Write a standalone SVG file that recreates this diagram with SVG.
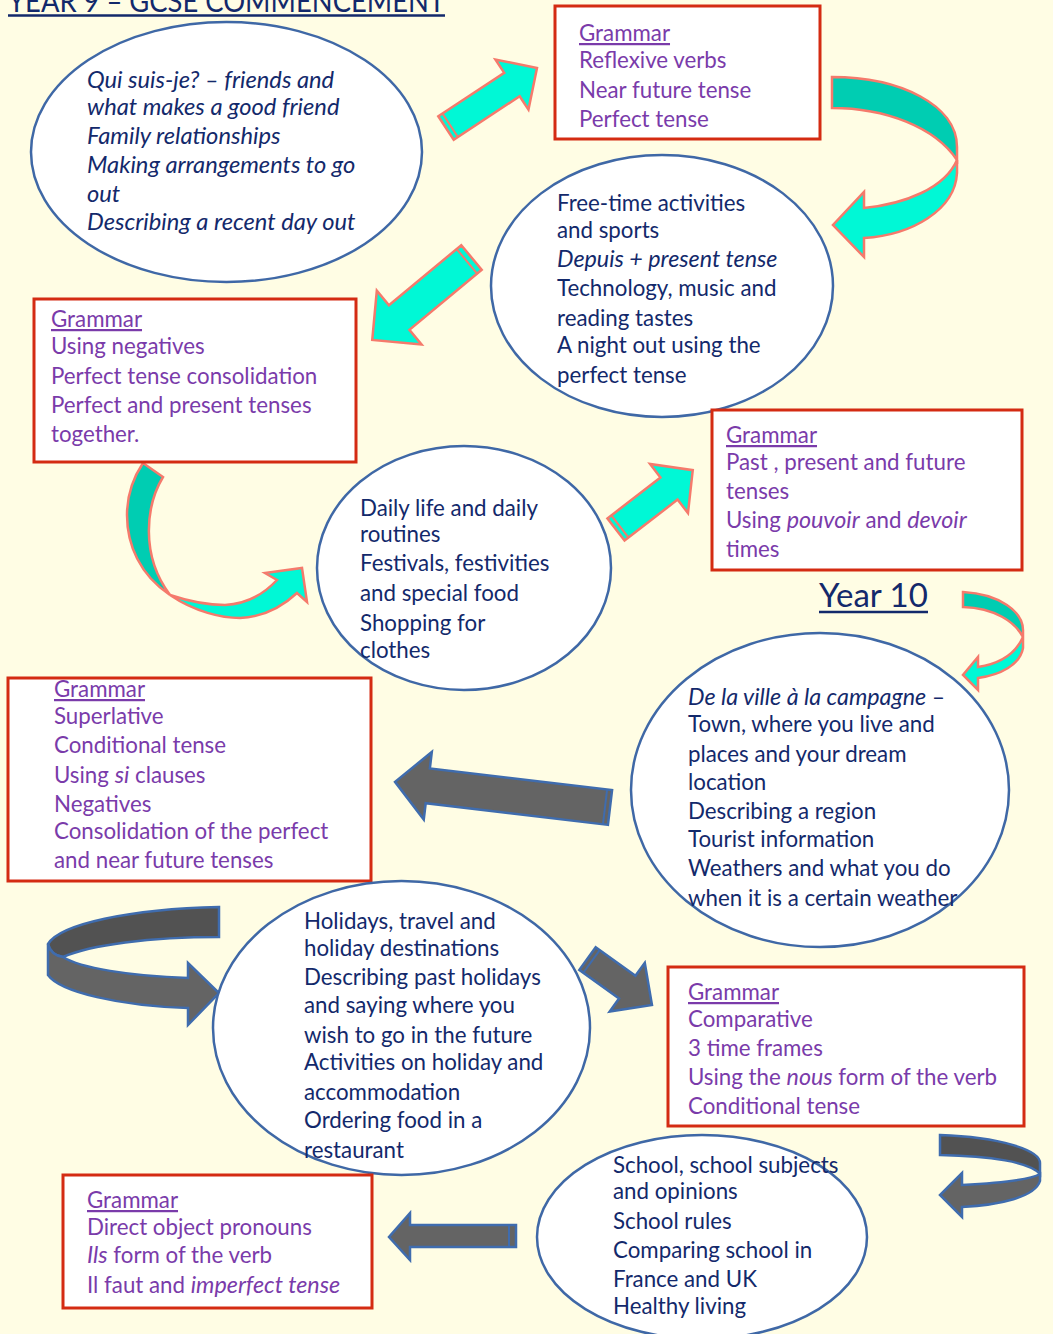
<svg xmlns="http://www.w3.org/2000/svg" width="1053" height="1334" viewBox="0 0 1053 1334">
<defs>
<style>
.ell{fill:#fff;stroke:#3F68A6;stroke-width:2.5}
.box{fill:#fff;stroke:#D42B12;stroke-width:3}
.t{font-family:Lato,"Liberation Sans",sans-serif;font-size:22.3px;fill:#13296B}
.p{font-family:Lato,"Liberation Sans",sans-serif;font-size:22.3px;fill:#7A3BAA}
.i{font-style:italic;font-size:23.3px}
.i2{font-style:italic;font-size:23.7px}
.u{text-decoration:underline}
.cy{fill:#00F8D6;stroke:#F57A6C;stroke-width:2.5;stroke-linejoin:miter}
.cyd{fill:#00CDB2;stroke:#F57A6C;stroke-width:2.5}
.gr{fill:#646464;stroke:#3F6CAE;stroke-width:2.5}
.grd{fill:#525252;stroke:#3F6CAE;stroke-width:2.5}
</style>
</defs>
<rect width="1053" height="1334" fill="#FFFDE4"/>

<g id="title">
<text x="8" y="12" font-family="Lato,'Liberation Sans',sans-serif" font-size="30" fill="#13296B" textLength="437" lengthAdjust="spacingAndGlyphs">YEAR 9 – GCSE COMMENCEMENT</text>
<line x1="8" y1="15.5" x2="445" y2="15.5" stroke="#13296B" stroke-width="2.5"/>
</g>

<g id="year10">
<text x="819" y="607" font-family="Lato,'Liberation Sans',sans-serif" font-size="33" fill="#13296B">Year 10</text>
<line x1="819" y1="612" x2="928" y2="612" stroke="#13296B" stroke-width="2.5"/>
</g>

<g id="connectors">
<g transform="translate(446,128) rotate(-33.4)">
<polygon class="cy" points="0,-14 79,-14 79,-30 109,0 79,30 79,14 0,14"/>
<line x1="5" y1="-14" x2="5" y2="14" stroke="#F57A6C" stroke-width="2"/>
</g>
<g transform="translate(471.5,257.5) rotate(140.3)">
<polygon class="cy" points="0,-16 94,-16 94,-35 129,0 94,35 94,16 0,16"/>
<line x1="6" y1="-16" x2="6" y2="16" stroke="#F57A6C" stroke-width="2"/>
</g>
<g transform="translate(616,529.5) rotate(-37.7)">
<polygon class="cy" points="0,-14 67,-14 67,-31 97,0 67,31 67,14 0,14"/>
<line x1="5" y1="-14" x2="5" y2="14" stroke="#F57A6C" stroke-width="2"/>
</g>
<path class="cyd" d="M832,77 C900,77 957,105 957,147 L957,160 C935,127 885,108 832,108 Z"/>
<path class="cy" d="M957,160 L957,173 C955,210 912,235 864,238 L864,257 L833,225 L864,192 L864,208 C905,204 945,188 957,160 Z"/>
<path class="cyd" d="M143,463 L163,477 C146,505 140,555 170,595 C140,575 127,545 127,515 C127,495 133,478 143,463 Z"/>
<path class="cy" d="M170,595 C195,612 222,618 240,618 C262,617 282,607 297,593 L307,602 L302,568 L265,573 L277,580 C262,596 245,604 225,605 C205,605 185,600 170,595 Z"/>
<path class="cyd" d="M963,592 C1000,594 1023,612 1023,630 L1023,637 C1015,622 995,608 963,607 Z"/>
<path class="cy" d="M1023,637 L1023,648 C1020,665 1000,675 978,678 L978,690 L963,675 L978,657 L978,667 C998,664 1015,655 1023,637 Z"/>
<g transform="translate(610,807.5) rotate(186.8)">
<polygon class="gr" points="0,-17.5 183.5,-17.5 183.5,-34 216.5,0 183.5,34 183.5,17.5 0,17.5"/>
<line x1="5" y1="-17.5" x2="5" y2="17.5" stroke="#3F6CAE" stroke-width="2"/>
</g>
<path class="grd" d="M219,907 L219,937 C150,937 90,945 63,957 C56,956 50,952 48,944 C60,924 130,909 219,907 Z"/>
<path class="gr" d="M48,944 L48,975 C60,992 120,1006 188,1008 L188,1025 L219,993 L188,963 L188,978 C130,976 80,968 63,957 C56,956 50,952 48,944 Z"/>
<g transform="translate(587.5,958.5) rotate(35.8)">
<polygon class="gr" points="0,-14 49,-14 49,-30 79.5,0 49,30 49,14 0,14"/>
<line x1="5" y1="-14" x2="5" y2="14" stroke="#3F6CAE" stroke-width="2"/>
</g>
<path class="grd" d="M940,1135 C1000,1137 1040,1150 1040,1163 L1040,1174 C1030,1162 990,1156 940,1155 Z"/>
<path class="gr" d="M1040,1174 L1040,1181 C1035,1197 1000,1205 962,1207 L962,1217 L940,1195 L962,1173 L962,1185 C1000,1183 1030,1180 1040,1174 Z"/>
<polygon class="gr" points="516,1225 410,1225 410,1213 389,1237 410,1260 410,1247 516,1247"/>
<line x1="509" y1="1225" x2="509" y2="1247" stroke="#3F6CAE" stroke-width="2"/>
</g>

<g id="topic1">
<ellipse class="ell" cx="226.5" cy="152" rx="195.5" ry="130"/>
<text class="t i2" x="87" y="88">Qui suis-je? – friends and</text>
<text class="t i2" x="87" y="115">what makes a good friend</text>
<text class="t i2" x="87" y="144">Family relationships</text>
<text class="t i2" x="87" y="173">Making arrangements to go</text>
<text class="t i2" x="87" y="202">out</text>
<text class="t i2" x="87" y="230">Describing a recent day out</text>
</g>

<g id="grammar1">
<rect class="box" x="555" y="6" width="265" height="133"/>
<text class="p u" x="579" y="41">Grammar</text>
<text class="p" x="579" y="68">Reflexive verbs</text>
<text class="p" x="579" y="98">Near future tense</text>
<text class="p" x="579" y="127">Perfect tense</text>
</g>

<g id="topic2">
<ellipse class="ell" cx="662" cy="286" rx="171" ry="131"/>
<text class="t" x="557" y="211">Free-time activities</text>
<text class="t" x="557" y="238">and sports</text>
<text class="t i" x="557" y="267">Depuis + present tense</text>
<text class="t" x="557" y="296">Technology, music and</text>
<text class="t" x="557" y="326">reading tastes</text>
<text class="t" x="557" y="353">A night out using the</text>
<text class="t" x="557" y="383">perfect tense</text>
</g>

<g id="grammar2">
<rect class="box" x="34" y="299" width="322" height="163"/>
<text class="p u" x="51" y="327">Grammar</text>
<text class="p" x="51" y="354">Using negatives</text>
<text class="p" x="51" y="384">Perfect tense consolidation</text>
<text class="p" x="51" y="413">Perfect and present tenses</text>
<text class="p" x="51" y="442">together.</text>
</g>

<g id="topic3">
<ellipse class="ell" cx="464" cy="568" rx="147" ry="122"/>
<text class="t" x="360" y="516">Daily life and daily</text>
<text class="t" x="360" y="542">routines</text>
<text class="t" x="360" y="571">Festivals, festivities</text>
<text class="t" x="360" y="601">and special food</text>
<text class="t" x="360" y="631">Shopping for</text>
<text class="t" x="360" y="658">clothes</text>
</g>

<g id="grammar3">
<rect class="box" x="712" y="410" width="310" height="160"/>
<text class="p u" x="726" y="443">Grammar</text>
<text class="p" x="726" y="470">Past , present and future</text>
<text class="p" x="726" y="499">tenses</text>
<text class="p" x="726" y="528">Using <tspan class="i">pouvoir</tspan> and <tspan class="i">devoir</tspan></text>
<text class="p" x="726" y="557">times</text>
</g>

<g id="topic4">
<ellipse class="ell" cx="820" cy="790" rx="189" ry="157"/>
<text class="t" x="688" y="705"><tspan class="i">De la ville à la campagne</tspan> –</text>
<text class="t" x="688" y="732">Town, where you live and</text>
<text class="t" x="688" y="762">places and your dream</text>
<text class="t" x="688" y="790">location</text>
<text class="t" x="688" y="819">Describing a region</text>
<text class="t" x="688" y="847">Tourist information</text>
<text class="t" x="688" y="876">Weathers and what you do</text>
<text class="t" x="688" y="906">when it is a certain weather</text>
</g>

<g id="grammar4">
<rect class="box" x="8" y="678" width="363" height="203"/>
<text class="p u" x="54" y="697">Grammar</text>
<text class="p" x="54" y="724">Superlative</text>
<text class="p" x="54" y="753">Conditional tense</text>
<text class="p" x="54" y="783">Using <tspan class="i">si</tspan> clauses</text>
<text class="p" x="54" y="812">Negatives</text>
<text class="p" x="54" y="839">Consolidation of the perfect</text>
<text class="p" x="54" y="868">and near future tenses</text>
</g>

<g id="topic5">
<ellipse class="ell" cx="401.5" cy="1028" rx="188.5" ry="147"/>
<text class="t" x="304" y="929">Holidays, travel and</text>
<text class="t" x="304" y="956">holiday destinations</text>
<text class="t" x="304" y="985">Describing past holidays</text>
<text class="t" x="304" y="1013">and saying where you</text>
<text class="t" x="304" y="1043">wish to go in the future</text>
<text class="t" x="304" y="1070">Activities on holiday and</text>
<text class="t" x="304" y="1100">accommodation</text>
<text class="t" x="304" y="1128">Ordering food in a</text>
<text class="t" x="304" y="1158">restaurant</text>
</g>

<g id="grammar5">
<rect class="box" x="668" y="967" width="356" height="159"/>
<text class="p u" x="688" y="1000">Grammar</text>
<text class="p" x="688" y="1027">Comparative</text>
<text class="p" x="688" y="1056">3 time frames</text>
<text class="p" x="688" y="1085">Using the <tspan class="i">nous</tspan> form of the verb</text>
<text class="p" x="688" y="1114">Conditional tense</text>
</g>

<g id="topic6">
<ellipse class="ell" cx="702" cy="1237" rx="165" ry="102"/>
<text class="t" x="613" y="1173">School, school subjects</text>
<text class="t" x="613" y="1199">and opinions</text>
<text class="t" x="613" y="1229">School rules</text>
<text class="t" x="613" y="1258">Comparing school in</text>
<text class="t" x="613" y="1287">France and UK</text>
<text class="t" x="613" y="1314">Healthy living</text>
</g>

<g id="grammar6">
<rect class="box" x="63" y="1175" width="309" height="133"/>
<text class="p u" x="87" y="1208">Grammar</text>
<text class="p" x="87" y="1235">Direct object pronouns</text>
<text class="p" x="87" y="1263"><tspan class="i">Ils</tspan> form of the verb</text>
<text class="p" x="87" y="1293">Il faut and <tspan class="i">imperfect tense</tspan></text>
</g>
</svg>
